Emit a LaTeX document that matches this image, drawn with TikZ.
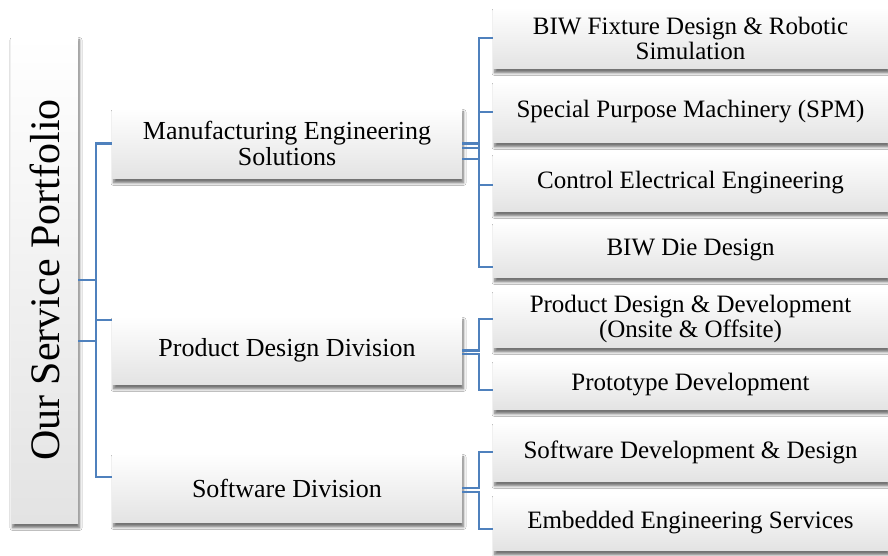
\documentclass[tikz,border=0pt]{standalone}
\usepackage{fontspec}
\setmainfont{Liberation Serif}
\usetikzlibrary{shadows, shadows.blur, positioning}
\definecolor{linkblue}{RGB}{79,129,189}

\begin{document}
\begin{tikzpicture}[x=1pt, y=1pt,
    box/.style={top color=white, bottom color=black!11, align=center, inner sep=2pt,
                blur shadow={shadow xshift=1.5pt, shadow yshift=-4pt, shadow blur radius=2.5pt,
                             shadow blur steps=6, shadow opacity=55}},
    leaf/.style={box, minimum width=395pt, font=\fontsize{25}{25}\selectfont},
    division/.style={box, minimum width=350pt, font=\fontsize{26}{26}\selectfont},
    link/.style={draw=linkblue, line width=2.5pt}]

    \fill[white] (0,0) rectangle (888,556);
    \useasboundingbox (0,0) rectangle (888,556);

    % root
    \node[box, minimum width=67pt, minimum height=488pt] (root) at (44.5,276)
        {\fontsize{42}{42}\selectfont\rotatebox{90}{Our Service Portfolio}};

    % divisions
    \node[division, minimum height=71pt] (mfg) at (287,412.5) {Manufacturing Engineering\\Solutions};
    \node[division, minimum height=69pt] (pdd) at (287,205.5) {Product Design Division};
    \node[division, minimum height=70pt] (swd) at (287,68) {Software Division};

    % services
    \node[leaf, minimum height=62pt] (biw)   at (690.5,518)   {BIW Fixture Design \& Robotic\\Simulation};
    \node[leaf, minimum height=62pt] (spm)   at (690.5,444)   {Special Purpose Machinery (SPM)};
    \node[leaf, minimum height=59pt] (ctrl)  at (690.5,373.5) {Control Electrical Engineering};
    \node[leaf, minimum height=56pt] (die)   at (690.5,306)   {BIW Die Design};
    \node[leaf, minimum height=58pt] (prod)  at (690.5,237)   {Product Design \& Development\\(Onsite \& Offsite)};
    \node[leaf, minimum height=50pt] (proto) at (690.5,171)   {Prototype Development};
    \node[leaf, minimum height=60pt] (soft)  at (690.5,104)   {Software Development \& Design};
    \node[leaf, minimum height=57pt] (emb)   at (690.5,33.5)  {Embedded Engineering Services};

    % root to divisions
    \draw[link] ([yshift=11pt]swd.west) -- ++(-16,0) |- (mfg.west);
    \draw[link] ([yshift=30.5pt]pdd.west) -- ++(-16,0);
    \draw[link] (root.east) -- ++(18,0);
    \draw[link] ([yshift=-61pt]root.east) -- ++(18,0);

    % divisions to services
    \draw[link] (mfg.east) -- ++(17,0) |- (biw.west);
    \draw[link] ([yshift=-4.5pt]mfg.east) -- ++(17,0) |- (spm.west);
    \draw[link] ([yshift=-4.5pt]mfg.east) -- ++(17,0) |- ([yshift=-2.5pt]ctrl.west);
    \draw[link] ([yshift=-15.5pt]mfg.east) -- ++(17,0) |- ([yshift=-17pt]die.west);

    \draw[link] (pdd.east) -- ++(17,0) |- (prod.west);
    \draw[link] ([yshift=-3.5pt]pdd.east) -- ++(17,0) |- ([yshift=-5pt]proto.west);

    \draw[link] (swd.east) -- ++(17,0) |- (soft.west);
    \draw[link] ([yshift=-4pt]swd.east) -- ++(17,0) |- ([yshift=-6.5pt]emb.west);

\end{tikzpicture}
\end{document}
